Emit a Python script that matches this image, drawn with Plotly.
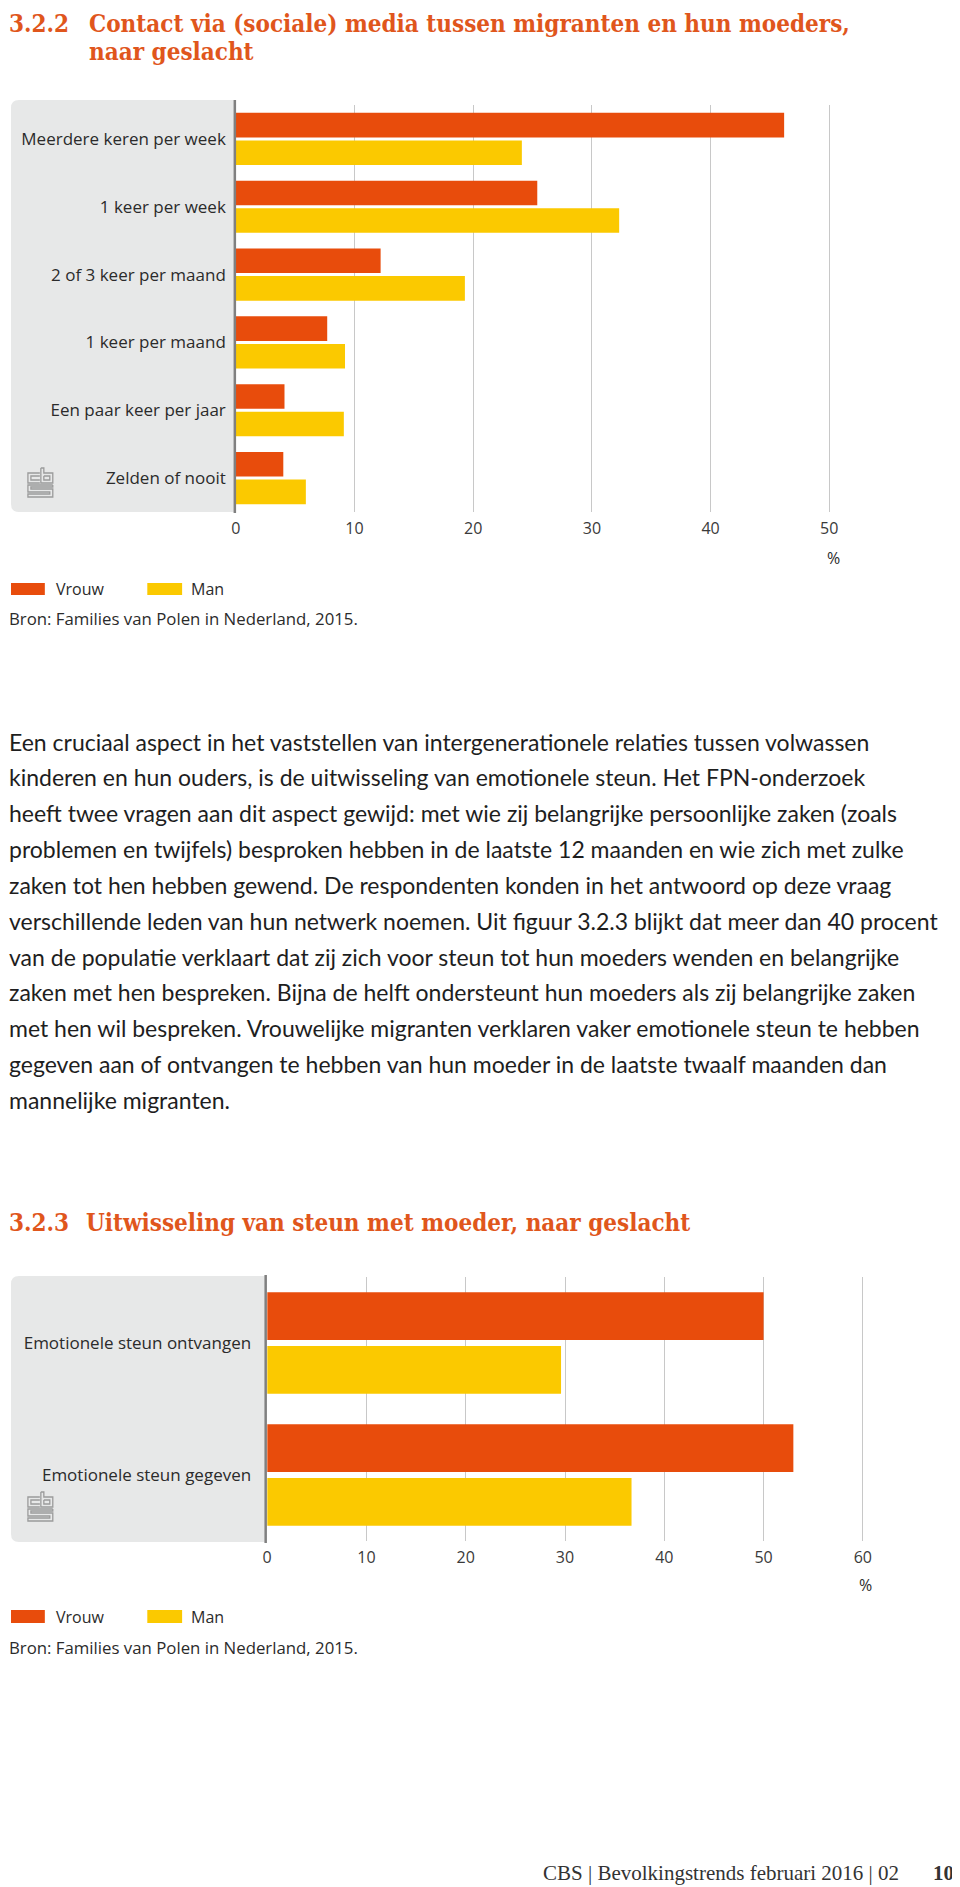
import plotly.graph_objects as go

W, H = 960, 1887
OFF = 8  # the page body adds an 8px margin; compensate so page positions match

# ---------------- data ----------------
cats1 = ["Meerdere keren per week", "1 keer per week", "2 of 3 keer per maand",
         "1 keer per maand", "Een paar keer per jaar", "Zelden of nooit"]
vrouw1 = [46.2, 25.4, 12.2, 7.7, 4.1, 4.0]
man1 = [24.1, 32.3, 19.3, 9.2, 9.1, 5.9]
ticks1 = [0, 10, 20, 30, 40, 50]

cats2 = ["Emotionele steun ontvangen", "Emotionele steun gegeven"]
vrouw2 = [50.0, 53.0]
man2 = [29.6, 36.7]
ticks2 = [0, 10, 20, 30, 40, 50, 60]

title1_num = "3.2.2"
title1_lines = ["Contact via (sociale) media tussen migranten en hun moeders,", "naar geslacht"]
title2_num = "3.2.3"
title2_text = "Uitwisseling van steun met moeder, naar geslacht"
source = "Bron: Families van Polen in Nederland, 2015."
paragraph = [
    "Een cruciaal aspect in het vaststellen van intergenerationele relaties tussen volwassen",
    "kinderen en hun ouders, is de uitwisseling van emotionele steun. Het FPN-onderzoek",
    "heeft twee vragen aan dit aspect gewijd: met wie zij belangrijke persoonlijke zaken (zoals",
    "problemen en twijfels) besproken hebben in de laatste 12 maanden en wie zich met zulke",
    "zaken tot hen hebben gewend. De respondenten konden in het antwoord op deze vraag",
    "verschillende leden van hun netwerk noemen. Uit figuur 3.2.3 blijkt dat meer dan 40 procent",
    "van de populatie verklaart dat zij zich voor steun tot hun moeders wenden en belangrijke",
    "zaken met hen bespreken. Bijna de helft ondersteunt hun moeders als zij belangrijke zaken",
    "met hen wil bespreken. Vrouwelijke migranten verklaren vaker emotionele steun te hebben",
    "gegeven aan of ontvangen te hebben van hun moeder in de laatste twaalf maanden dan",
    "mannelijke migranten.",
]
footer = "CBS | Bevolkingstrends februari 2016 | 02"
page_no = "10"

# ---------------- style ----------------
ORANGE = "#e84c0c"
YELLOW = "#fbc900"
PANEL = "#e7e8e8"
AXIS = "#808080"
GRID = "#c8c8c8"
TXT = "#2b2b2b"
TITLE_C = "#e0561c"
LABEL_FONT = "Open Sans"


def px(x):
    return (x - OFF) / W


def py(y):
    return 1 - (y - OFF) / H


fig = go.Figure()
fig.add_trace(go.Bar(y=cats1, x=vrouw1, orientation="h", name="Vrouw",
                     marker=dict(color=ORANGE, line=dict(width=0)),
                     xaxis="x", yaxis="y", showlegend=False))
fig.add_trace(go.Bar(y=cats1, x=man1, orientation="h", name="Man",
                     marker=dict(color=YELLOW, line=dict(width=0)),
                     xaxis="x", yaxis="y", showlegend=False))
fig.add_trace(go.Bar(y=cats2, x=vrouw2, orientation="h", name="Vrouw",
                     marker=dict(color=ORANGE, line=dict(width=0)),
                     xaxis="x2", yaxis="y2", showlegend=False))
fig.add_trace(go.Bar(y=cats2, x=man2, orientation="h", name="Man",
                     marker=dict(color=YELLOW, line=dict(width=0)),
                     xaxis="x2", yaxis="y2", showlegend=False))

# chart geometry (page pixels)
c1_x0, c1_px_per = 232.0, 11.93
c1_ytop, c1_ybot = 105, 512
c2_x0, c2_px_per = 263.5, 9.98
c2_ytop, c2_ybot = 1277, 1541
r1 = [0, 55]
r2 = [0, 62]

xa_common = dict(showgrid=True, gridcolor=GRID, gridwidth=1, zeroline=False,
                 showline=False, ticks="", ticklabelstandoff=5,
                 tickfont=dict(family=LABEL_FONT, size=16, color="#3a3a3a"),
                 fixedrange=True)

fig.update_layout(
    width=W, height=H,
    margin=dict(l=0, r=0, t=0, b=0),
    paper_bgcolor="white", plot_bgcolor="rgba(0,0,0,0)",
    barmode="group", bargap=0.185, bargroupgap=0.11,
    showlegend=False,
    xaxis=dict(domain=[px(c1_x0), px(c1_x0 + r1[1] * c1_px_per)], range=r1,
               tickvals=ticks1, anchor="y", **xa_common),
    yaxis=dict(domain=[py(c1_ybot), py(c1_ytop)], autorange="reversed",
               anchor="x", showgrid=False, zeroline=False, showline=False,
               ticks="", ticklabelstandoff=9,
               tickfont=dict(family=LABEL_FONT, size=17, color=TXT)),
    xaxis2=dict(domain=[px(c2_x0), px(c2_x0 + r2[1] * c2_px_per)], range=r2,
                tickvals=ticks2, anchor="y2", **xa_common),
    yaxis2=dict(domain=[py(c2_ybot), py(c2_ytop)], autorange="reversed",
                anchor="x2", showgrid=False, zeroline=False, showline=False,
                ticks="", ticklabelstandoff=15,
                tickfont=dict(family=LABEL_FONT, size=17, color=TXT)),
)

shapes = []
annotations = []


def rounded_left_panel(x0, y0, x1, y1, r=8):
    X0, X1 = px(x0), px(x1)
    Y0, Y1 = py(y0), py(y1)
    rx, ry = r / W, r / H
    path = (f"M {X0+rx},{Y0} L {X1},{Y0} L {X1},{Y1} L {X0+rx},{Y1} "
            f"Q {X0},{Y1} {X0},{Y1+ry} L {X0},{Y0-ry} Q {X0},{Y0} {X0+rx},{Y0} Z")
    return dict(type="path", path=path, xref="paper", yref="paper",
                fillcolor=PANEL, line=dict(width=0), layer="below")


def vline(x, y0, y1, color=AXIS, width=2.5):
    return dict(type="line", xref="paper", yref="paper",
                x0=px(x), x1=px(x), y0=py(y0), y1=py(y1),
                line=dict(color=color, width=width), layer="above")


def rect(x0, y0, x1, y1, color):
    return dict(type="rect", xref="paper", yref="paper",
                x0=px(x0), x1=px(x1), y0=py(y1), y1=py(y0),
                fillcolor=color, line=dict(width=0))


def logo(x0, y0):
    segs = [
        [(12, 5), (0, 5), (0, 15), (12, 15)],
        [(12, 8), (3, 8), (3, 12), (12, 12)],
        [(13, 0), (13, 15), (25, 15), (25, 5), (16, 5), (16, 0), (13, 0)],
        [(16, 8), (22, 8), (22, 12), (16, 12), (16, 8)],
        [(25, 17), (0, 17), (0, 24), (22, 24), (22, 26), (0, 26), (0, 29),
         (25, 29), (25, 21), (3, 21), (3, 19), (25, 19), (25, 17)],
    ]
    out = []
    for s in segs:
        p = "M " + " L ".join(f"{px(x0 + a)},{py(y0 + b)}" for a, b in s)
        out.append(dict(type="path", path=p, xref="paper", yref="paper",
                        line=dict(color="#9b9b9b", width=1.3), layer="above"))
    return out


def text(x, y, s, size=16, color=TXT, family=LABEL_FONT, xanchor="left", bold=False):
    if bold:
        s = f"<b>{s}</b>"
    xa = x - 1 if xanchor == "left" else x
    annotations.append(dict(x=px(xa), y=py(y), xref="paper", yref="paper",
                            text=s, showarrow=False, xanchor=xanchor,
                            yanchor="middle", borderpad=0, borderwidth=0,
                            font=dict(family=family, size=size, color=color)))


# chart 1 furniture
shapes.append(rounded_left_panel(6, 100, 231, 512))
shapes.append(vline(231, 100, 513))
shapes += logo(23, 468)
shapes.append(rect(6, 583, 40, 595, ORANGE))
shapes.append(rect(143, 583, 178, 595, YELLOW))
text(52, 589, "Vrouw", size=16)
text(188, 589, "Man", size=16)
text(5, 618, source, size=16.8)
text(833, 558, "%", xanchor="center")

# chart 2 furniture
shapes.append(rounded_left_panel(6, 1276, 262, 1542))
shapes.append(vline(262, 1275, 1543))
shapes += logo(23, 1492)
shapes.append(rect(6, 1610, 40, 1623, ORANGE))
shapes.append(rect(143, 1610, 178, 1623, YELLOW))
text(52, 1617, "Vrouw", size=16)
text(188, 1617, "Man", size=16)
text(5, 1647, source, size=16.8)
text(865, 1585, "%", xanchor="center")

# titles
TFONT = "DejaVu Serif Condensed"
TS = 24
text(5, 23.5, title1_num, size=TS, color=TITLE_C, family=TFONT, bold=True)
text(85, 23.5, title1_lines[0], size=TS, color=TITLE_C, family=TFONT, bold=True)
text(85, 51.5, title1_lines[1], size=TS, color=TITLE_C, family=TFONT, bold=True)
text(5, 1222, title2_num, size=TS, color=TITLE_C, family=TFONT, bold=True)
text(82, 1222, title2_text, size=TS, color=TITLE_C, family=TFONT, bold=True)

# paragraph
for i, line in enumerate(paragraph):
    text(5, 741.5 + i * 35.85, line, size=23, color="#1e1e1e", family="Lato")

# footer
text(542, 1873, footer, size=21, color="#333333", family="Liberation Serif")
text(934, 1873, page_no, size=21, color="#333333", family="Liberation Serif", bold=True)

fig.update_layout(shapes=shapes, annotations=annotations)
fig.write_html("out.html")
